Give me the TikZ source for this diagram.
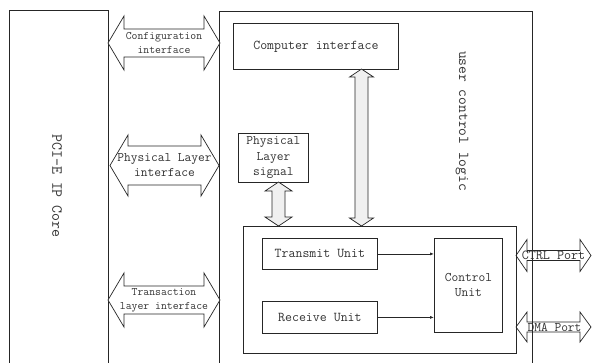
\documentclass[tikz,border=0pt]{standalone}
\usepackage{fontspec}
\usetikzlibrary{arrows.meta}
\tikzset{
  box/.style={draw=black!85, line width=0.8pt, inner sep=0pt, anchor=north west},
  lbl/.style={font=\ttfamily\fontsize{13.5}{15}\selectfont, text=black!80, align=center, inner sep=0pt},
  small/.style={font=\ttfamily\fontsize{11.4}{14}\selectfont},
  bigarrow/.style={draw=black!85, line width=0.7pt, fill=white, line join=miter},
  portarrow/.style={draw=black!85, line width=0.7pt, line join=miter},
  grayarrow/.style={draw=black!85, line width=0.7pt, fill=gray!12, line join=miter},
  flow/.style={draw=black!85, line width=0.7pt, -{Latex[length=4pt,width=3pt]}},
}
\newcommand\hdarrow[7]{% style, x1, x2, yc, H, S, L
  \path[#1] (#2,#4) -- ({#2+#7},{#4-#5}) -- ({#2+#7},{#4-#6}) -- ({#3-#7},{#4-#6}) -- ({#3-#7},{#4-#5}) -- (#3,#4) -- ({#3-#7},{#4+#5}) -- ({#3-#7},{#4+#6}) -- ({#2+#7},{#4+#6}) -- ({#2+#7},{#4+#5}) -- cycle;}
\newcommand\vdarrow[7]{% style, xc, y1, y2, H, S, L
  \path[#1] (#2,#3) -- ({#2+#5},{#3+#7}) -- ({#2+#6},{#3+#7}) -- ({#2+#6},{#4-#7}) -- ({#2+#5},{#4-#7}) -- (#2,#4) -- ({#2-#5},{#4-#7}) -- ({#2-#6},{#4-#7}) -- ({#2-#6},{#3+#7}) -- ({#2-#5},{#3+#7}) -- cycle;}
\begin{document}
\begin{tikzpicture}[x=1pt, y=-1pt]
\useasboundingbox[fill=white] (0,0) rectangle (592,362);

% main boxes
\node[box, minimum width=99pt, minimum height=356pt] (pci) at (9,10) {};
\node[box, minimum width=313pt, minimum height=356pt] (ucl) at (219,11) {};
\node[lbl, font=\ttfamily\fontsize{15.4}{18}\selectfont, rotate=-90] (pcilbl) at (57,186) {PCI-E IP Core};
\node[lbl, font=\ttfamily\fontsize{15.1}{18}\selectfont, rotate=-90] (ucllbl) at (462,121) {user control logic};

% inner boxes
\node[box, minimum width=165pt, minimum height=46pt] (comp) at (233,23) {};
\node[lbl] at (comp.center) {Computer interface};
\node[box, minimum width=70pt, minimum height=49pt] (phys) at (238,133) {};
\node[lbl, font=\ttfamily\fontsize{13.1}{15.5}\selectfont] at (phys.center) {Physical\\Layer\\signal};
\node[box, minimum width=273pt, minimum height=127pt] (inner) at (243,226) {};
\node[box, minimum width=115pt, minimum height=31pt] (tx) at (262,238) {};
\node[lbl] at (tx.center) {Transmit Unit};
\node[box, minimum width=115pt, minimum height=32pt] (rx) at (262,301) {};
\node[lbl] at (rx.center) {Receive Unit};
\node[box, minimum width=68pt, minimum height=94pt] (ctrl) at (434,238) {};
\node[lbl, font=\ttfamily\fontsize{13.1}{15}\selectfont] at (ctrl.center) {Control\\Unit};

% flows
\draw[flow] (tx.east) -- (tx.east -| ctrl.west);
\draw[flow] (rx.east) -- (rx.east -| ctrl.west);

% vertical gray double arrows
\vdarrow{grayarrow}{278.5}{182}{226}{13.5}{6.5}{9}
\vdarrow{grayarrow}{361.5}{69}{226}{12}{6.5}{8}

% horizontal interface arrows
\hdarrow{bigarrow}{108}{220}{43}{27}{14}{16}
\node[lbl, small] (cfg) at (164,43) {Configuration\\interface};
\hdarrow{bigarrow}{110}{219}{165.5}{30.5}{19.5}{18}
\node[lbl, font=\ttfamily\fontsize{13.1}{15}\selectfont] (phyif) at (164.5,165.5) {Physical Layer\\interface};
\hdarrow{bigarrow}{108}{220}{300}{27}{14}{16}
\node[lbl, small] (trif) at (164,300) {Transaction\\layer interface};

% port arrows
\hdarrow{portarrow}{516}{591}{255.5}{16}{5}{11}
\node[lbl, font=\ttfamily\fontsize{13.7}{14}\selectfont] (ctrlp) at (553.5,255.5) {CTRL Port};
\hdarrow{portarrow}{516}{591}{327}{15}{5}{11}
\node[lbl, font=\ttfamily\fontsize{13.1}{14}\selectfont] (dmap) at (554.5,327) {DMA Port};
\end{tikzpicture}
\end{document}
